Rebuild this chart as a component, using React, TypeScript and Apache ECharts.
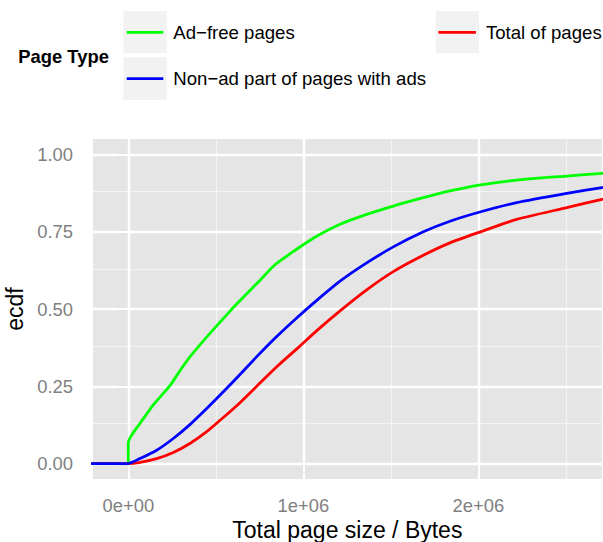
import React, { useEffect, useRef } from "react";
import * as echarts from "echarts";

// ECDF of page sizes, per page type: [bytes, cumulative share]
const adFree: [number, number][] = [
  [-250000, 0], [0, 0], [0, 0.067], [19000, 0.092], [67000, 0.13], [143000, 0.19],
  [238000, 0.252], [295000, 0.3], [352000, 0.345], [429000, 0.397], [501000, 0.443],
  [562000, 0.481], [619000, 0.516], [695000, 0.56], [753000, 0.593], [838000, 0.643],
  [943000, 0.686], [1057000, 0.729], [1210000, 0.774], [1362000, 0.806], [1514000, 0.833],
  [1686000, 0.86], [1838000, 0.882], [2004000, 0.901], [2219000, 0.917], [2505000, 0.93],
  [2707000, 0.939], [2800000, 0.942],
];
const nonAdPart: [number, number][] = [
  [-250000, 0], [0, 0], [67000, 0.016], [162000, 0.043], [257000, 0.081], [352000, 0.126],
  [448000, 0.178], [543000, 0.232], [638000, 0.288], [734000, 0.346], [848000, 0.411],
  [962000, 0.471], [1077000, 0.528], [1210000, 0.59], [1362000, 0.649], [1514000, 0.701],
  [1686000, 0.75], [1838000, 0.784], [2004000, 0.813], [2219000, 0.844], [2505000, 0.874],
  [2707000, 0.893], [2800000, 0.9],
];
const totalPages: [number, number][] = [
  [-250000, 0], [0, 0], [60000, 0.003], [162000, 0.016], [257000, 0.036], [352000, 0.065],
  [448000, 0.103], [543000, 0.149], [638000, 0.197], [734000, 0.25], [848000, 0.313],
  [971000, 0.375], [1077000, 0.43], [1210000, 0.494], [1362000, 0.562], [1514000, 0.621],
  [1686000, 0.674], [1838000, 0.714], [2004000, 0.748], [2219000, 0.79], [2505000, 0.828],
  [2707000, 0.855], [2800000, 0.865],
];

const seriesNames = ["Ad\u2212free pages", "Non\u2212ad part of pages with ads", "Total of pages"];
const seriesColors = ["#00FF00", "#0000FF", "#FF0000"];

// axis ticks and grid
const xTicks = [0, 1000000, 2000000];
const xTickLabels = ["0e+00", "1e+06", "2e+06"];
const xMinorGrid = [500000, 1500000, 2500000];
const yTicks = [0, 0.25, 0.5, 0.75, 1];
const yTickLabels = ["0.00", "0.25", "0.50", "0.75", "1.00"];
const yMinorGrid = [0.125, 0.375, 0.625, 0.875];
const xRange = [-201700, 2705000];
const yRange = [-0.05, 1.05];

const FONT = "Liberation Sans, Arial, Helvetica, sans-serif";

export default function App() {
  const ref = useRef<HTMLDivElement>(null);

  useEffect(() => {
    if (!ref.current) return;
    const chart = echarts.init(ref.current, undefined, { renderer: "svg" });

    const gridLines = [
      ...xMinorGrid.map((v) => ({ xAxis: v, lineStyle: { color: "#F4F4F4", width: 1.2, type: "solid" } })),
      ...yMinorGrid.map((v) => ({ yAxis: v, lineStyle: { color: "#F4F4F4", width: 1.2, type: "solid" } })),
      ...xTicks.map((v) => ({ xAxis: v, lineStyle: { color: "#FFFFFF", width: 2.4, type: "solid" } })),
      ...yTicks.map((v) => ({ yAxis: v, lineStyle: { color: "#FFFFFF", width: 2.4, type: "solid" } })),
    ];

    const legendText = {
      fontSize: 18.6,
      color: "#000",
      fontFamily: FONT,
      padding: [0, 0, 0, 5],
      lineHeight: 22,
    };

    const lineSeries = (idx: number, data: [number, number][]) => ({
      name: seriesNames[idx],
      type: "line",
      data,
      showSymbol: false,
      smooth: 0.2,
      z: 3,
      lineStyle: { width: 2.8, color: seriesColors[idx] },
      itemStyle: { color: seriesColors[idx] },
    });

    chart.setOption({
      animation: false,
      color: seriesColors,
      textStyle: { fontFamily: FONT },
      grid: {
        left: 93,
        right: 1.3,
        top: 139,
        bottom: 63,
        show: true,
        containLabel: false,
        outerBoundsMode: "none",
        backgroundColor: "#E5E5E5",
        borderWidth: 0,
      },
      graphic: [
        { type: "rect", z: 0, shape: { x: 123.3, y: 11, width: 43.4, height: 42.3 }, style: { fill: "#F2F2F2" } },
        { type: "rect", z: 0, shape: { x: 123.3, y: 57.3, width: 43.4, height: 42.7 }, style: { fill: "#F2F2F2" } },
        { type: "rect", z: 0, shape: { x: 435.7, y: 11, width: 43.4, height: 42.3 }, style: { fill: "#F2F2F2" } },
        {
          type: "text",
          z: 5,
          x: 18.3,
          y: 56.7,
          style: {
            text: "Page Type",
            fontSize: 18.4,
            fontWeight: "bold",
            fontFamily: FONT,
            fill: "#000",
            verticalAlign: "middle",
          },
        },
      ],
      legend: [
        {
          data: [seriesNames[0], seriesNames[1]],
          orient: "vertical",
          left: 126.7,
          top: 21.3,
          padding: 0,
          itemGap: 24.4,
          itemWidth: 36.6,
          itemHeight: 2.7,
          icon: "rect",
          selectedMode: false,
          textStyle: legendText,
        },
        {
          data: [seriesNames[2]],
          orient: "vertical",
          left: 438.4,
          top: 21.3,
          padding: 0,
          itemWidth: 37.5,
          itemHeight: 2.7,
          icon: "rect",
          selectedMode: false,
          textStyle: legendText,
        },
      ],
      xAxis: {
        type: "value",
        min: xRange[0],
        max: xRange[1],
        name: "Total page size / Bytes",
        nameLocation: "middle",
        nameGap: 34.5,
        nameTextStyle: { fontSize: 23, color: "#000", fontFamily: FONT },
        axisLine: { show: false },
        axisTick: {
          show: true,
          length: 10.5,
          customValues: xTicks,
          lineStyle: { color: "#7F7F7F", width: 2.2 },
        },
        axisLabel: {
          customValues: xTicks,
          margin: 17,
          fontSize: 18.4,
          color: "#7F7F7F",
          fontFamily: FONT,
          formatter: (v: number) => xTickLabels[xTicks.indexOf(v)] ?? "",
        },
        splitLine: { show: false },
        minorSplitLine: { show: false },
      },
      yAxis: {
        type: "value",
        min: yRange[0],
        max: yRange[1],
        name: "ecdf",
        nameLocation: "middle",
        nameGap: 55,
        nameTextStyle: { fontSize: 23, color: "#000", fontFamily: FONT },
        axisLine: { show: false },
        axisTick: {
          show: true,
          length: 10.5,
          customValues: yTicks,
          lineStyle: { color: "#7F7F7F", width: 2.2 },
        },
        axisLabel: {
          customValues: yTicks,
          margin: 20,
          fontSize: 18.4,
          color: "#7F7F7F",
          fontFamily: FONT,
          formatter: (v: number) => yTickLabels[yTicks.indexOf(v)] ?? "",
        },
        splitLine: { show: false },
        minorSplitLine: { show: false },
      },
      series: [
        {
          name: "grid",
          type: "line",
          data: [],
          z: 1,
          silent: true,
          markLine: {
            z: 1,
            silent: true,
            symbol: "none",
            label: { show: false },
            emphasis: { disabled: true },
            data: gridLines,
          },
        },
        lineSeries(0, adFree),
        lineSeries(2, totalPages),
        lineSeries(1, nonAdPart),
      ],
    });

    return () => chart.dispose();
  }, []);

  return (
    <div
      ref={ref}
      style={{ position: "fixed", left: 0, top: 0, width: 603, height: 542, background: "#fff" }}
    />
  );
}
